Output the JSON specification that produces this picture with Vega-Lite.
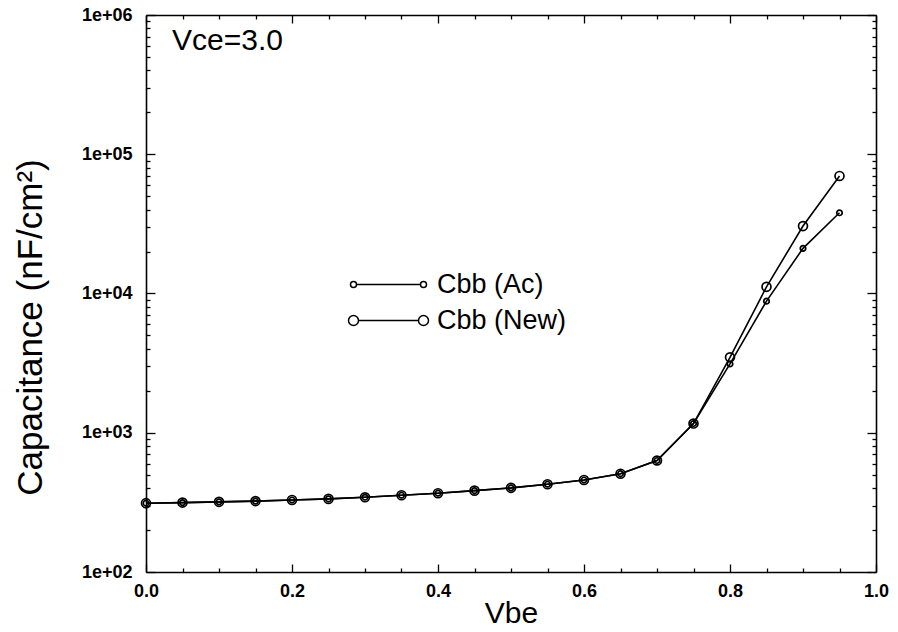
{
  "$schema": "https://vega.github.io/schema/vega-lite/v6.json",
  "width": 730,
  "height": 557,
  "autosize": "none",
  "padding": {"left": 146, "top": 15, "right": 22, "bottom": 60},
  "background": "white",
  "title": {"text": "Vce=3.0", "anchor": "start", "frame": "group", "orient": "top", "offset": -65, "dx": 26, "fontSize": 30, "fontWeight": "normal", "baseline": "middle", "color": "black", "font": "Liberation Sans"},
  "config": {
    "font": "Liberation Sans",
    "view": {"stroke": null},
    "axis": {"domainColor": "black", "domainWidth": 1.6, "tickColor": "black", "tickWidth": 1.3, "labelColor": "black", "titleColor": "black", "grid": false, "labelFont": "Liberation Sans", "titleFont": "Liberation Sans", "labelFontSize": 18, "labelFontWeight": "bold", "titleFontWeight": "normal"}
  },
  "datasets": {
    "cap": [
      {"vbe": 0.00, "series": "Cbb (Ac)", "c": 312}, {"vbe": 0.00, "series": "Cbb (New)", "c": 312},
      {"vbe": 0.05, "series": "Cbb (Ac)", "c": 315}, {"vbe": 0.05, "series": "Cbb (New)", "c": 315},
      {"vbe": 0.10, "series": "Cbb (Ac)", "c": 319}, {"vbe": 0.10, "series": "Cbb (New)", "c": 319},
      {"vbe": 0.15, "series": "Cbb (Ac)", "c": 323}, {"vbe": 0.15, "series": "Cbb (New)", "c": 323},
      {"vbe": 0.20, "series": "Cbb (Ac)", "c": 329}, {"vbe": 0.20, "series": "Cbb (New)", "c": 329},
      {"vbe": 0.25, "series": "Cbb (Ac)", "c": 335}, {"vbe": 0.25, "series": "Cbb (New)", "c": 335},
      {"vbe": 0.30, "series": "Cbb (Ac)", "c": 344}, {"vbe": 0.30, "series": "Cbb (New)", "c": 344},
      {"vbe": 0.35, "series": "Cbb (Ac)", "c": 356}, {"vbe": 0.35, "series": "Cbb (New)", "c": 356},
      {"vbe": 0.40, "series": "Cbb (Ac)", "c": 368}, {"vbe": 0.40, "series": "Cbb (New)", "c": 368},
      {"vbe": 0.45, "series": "Cbb (Ac)", "c": 384}, {"vbe": 0.45, "series": "Cbb (New)", "c": 384},
      {"vbe": 0.50, "series": "Cbb (Ac)", "c": 402}, {"vbe": 0.50, "series": "Cbb (New)", "c": 402},
      {"vbe": 0.55, "series": "Cbb (Ac)", "c": 427}, {"vbe": 0.55, "series": "Cbb (New)", "c": 427},
      {"vbe": 0.60, "series": "Cbb (Ac)", "c": 458}, {"vbe": 0.60, "series": "Cbb (New)", "c": 458},
      {"vbe": 0.65, "series": "Cbb (Ac)", "c": 508}, {"vbe": 0.65, "series": "Cbb (New)", "c": 508},
      {"vbe": 0.70, "series": "Cbb (Ac)", "c": 632}, {"vbe": 0.70, "series": "Cbb (New)", "c": 632},
      {"vbe": 0.75, "series": "Cbb (Ac)", "c": 1165}, {"vbe": 0.75, "series": "Cbb (New)", "c": 1165},
      {"vbe": 0.80, "series": "Cbb (Ac)", "c": 3120}, {"vbe": 0.80, "series": "Cbb (New)", "c": 3480},
      {"vbe": 0.85, "series": "Cbb (Ac)", "c": 8810}, {"vbe": 0.85, "series": "Cbb (New)", "c": 11170},
      {"vbe": 0.90, "series": "Cbb (Ac)", "c": 21100}, {"vbe": 0.90, "series": "Cbb (New)", "c": 30500},
      {"vbe": 0.95, "series": "Cbb (Ac)", "c": 38000}, {"vbe": 0.95, "series": "Cbb (New)", "c": 69800}
    ]
  },
  "data": {"name": "cap"},
  "resolve": {"axis": {"x": "independent", "y": "independent"}},
  "layer": [
    {
      "mark": {"type": "line", "color": "black", "strokeWidth": 1.6},
      "encoding": {
        "x": {"field": "vbe", "type": "quantitative", "scale": {"domain": [0, 1], "nice": false, "zero": false},
          "axis": {"orient": "bottom", "title": "Vbe", "titleFontSize": 30, "titleY": 41, "titleBaseline": "middle",
            "values": [0, 0.05, 0.1, 0.15, 0.2, 0.25, 0.3, 0.35, 0.4, 0.45, 0.5, 0.55, 0.6, 0.65, 0.7, 0.75, 0.8, 0.85, 0.9, 0.95, 1.0],
            "labelExpr": "abs(datum.value*5 - round(datum.value*5)) < 0.001 ? format(datum.value, '.1f') : ''",
            "tickSize": {"condition": {"test": "abs(datum.value*5 - round(datum.value*5)) < 0.001", "value": -8}, "value": -4},
            "labelFontSize": 18, "labelPadding": 18, "labelFlush": false, "labelOverlap": false}},
        "y": {"field": "c", "type": "quantitative", "scale": {"type": "log", "domain": [100, 1000000], "nice": false},
          "axis": {"orient": "left", "title": "Capacitance  (nF/cm²)", "titleFontSize": 35, "titleAngle": -90, "titleX": -116, "titleY": 312, "titleAlign": "center", "titleBaseline": "middle",
            "values": [100, 200, 300, 400, 500, 600, 700, 800, 900, 1000, 2000, 3000, 4000, 5000, 6000, 7000, 8000, 9000, 10000, 20000, 30000, 40000, 50000, 60000, 70000, 80000, 90000, 100000, 200000, 300000, 400000, 500000, 600000, 700000, 800000, 900000, 1000000],
            "labelExpr": "abs(log(datum.value)/LN10 - round(log(datum.value)/LN10)) < 0.0001 ? '1e+0' + round(log(datum.value)/LN10) : ''",
            "tickSize": {"condition": {"test": "abs(log(datum.value)/LN10 - round(log(datum.value)/LN10)) < 0.0001", "value": -9}, "value": -4},
            "labelFontSize": 18, "labelPadding": 23, "labelFlush": false, "labelOverlap": false}},
        "detail": {"field": "series"}
      }
    },
    {
      "transform": [{"filter": "datum.series == 'Cbb (Ac)'"}],
      "mark": {"type": "point", "shape": "circle", "filled": false, "stroke": "black", "strokeWidth": 1.7, "opacity": 1, "size": 30},
      "encoding": {
        "x": {"field": "vbe", "type": "quantitative", "axis": null},
        "y": {"field": "c", "type": "quantitative", "axis": null}
      }
    },
    {
      "transform": [{"filter": "datum.series == 'Cbb (New)'"}],
      "mark": {"type": "point", "shape": "circle", "filled": false, "stroke": "black", "strokeWidth": 1.7, "opacity": 1, "size": 80},
      "encoding": {
        "x": {"field": "vbe", "type": "quantitative", "axis": null},
        "y": {"field": "c", "type": "quantitative", "axis": null}
      }
    },
    {
      "mark": {"type": "point", "filled": false, "stroke": "black", "opacity": 0},
      "encoding": {
        "x": {"field": "vbe", "type": "quantitative",
          "axis": {"orient": "top", "title": null, "labels": false,
            "values": [0, 0.05, 0.1, 0.15, 0.2, 0.25, 0.3, 0.35, 0.4, 0.45, 0.5, 0.55, 0.6, 0.65, 0.7, 0.75, 0.8, 0.85, 0.9, 0.95, 1.0],
            "tickSize": {"condition": {"test": "abs(datum.value*5 - round(datum.value*5)) < 0.001", "value": -8}, "value": -4}}},
        "y": {"field": "c", "type": "quantitative",
          "axis": {"orient": "right", "title": null, "labels": false,
            "values": [100, 200, 300, 400, 500, 600, 700, 800, 900, 1000, 2000, 3000, 4000, 5000, 6000, 7000, 8000, 9000, 10000, 20000, 30000, 40000, 50000, 60000, 70000, 80000, 90000, 100000, 200000, 300000, 400000, 500000, 600000, 700000, 800000, 900000, 1000000],
            "tickSize": {"condition": {"test": "abs(log(datum.value)/LN10 - round(log(datum.value)/LN10)) < 0.0001", "value": -9}, "value": -4}}},
        "shape": {"field": "series", "type": "nominal",
          "scale": {"domain": ["Cbb (Ac)", "Cbb (New)"],
            "range": ["M-3.8,0 A0.3,0.3 0 1 1 -3.2,0 A0.3,0.3 0 1 1 -3.8,0 Z M-3.2,0 L3.2,0 M3.2,0 A0.3,0.3 0 1 1 3.8,0 A0.3,0.3 0 1 1 3.2,0 Z",
                      "M-4,0 A0.5,0.5 0 1 1 -3,0 A0.5,0.5 0 1 1 -4,0 Z M-3,0 L3,0 M3,0 A0.5,0.5 0 1 1 4,0 A0.5,0.5 0 1 1 3,0 Z"]},
          "legend": {"orient": "none", "legendX": 229, "legendY": 256, "title": null, "padding": 0, "symbolSize": 400, "symbolStrokeColor": "black", "symbolFillColor": "transparent", "symbolStrokeWidth": 1.5, "symbolOpacity": 1, "labelFontSize": 27, "labelFont": "Liberation Sans", "labelOffset": 35, "labelColor": "black", "rowPadding": 8, "labelBaseline": "middle"}}
      }
    }
  ]
}
